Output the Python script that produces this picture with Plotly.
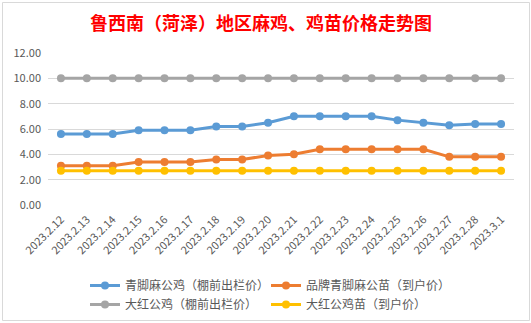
import plotly.graph_objects as go

dates = ["2023.2.12", "2023.2.13", "2023.2.14", "2023.2.15", "2023.2.16", "2023.2.17",
         "2023.2.18", "2023.2.19", "2023.2.20", "2023.2.21", "2023.2.22", "2023.2.23",
         "2023.2.24", "2023.2.25", "2023.2.26", "2023.2.27", "2023.2.28", "2023.3.1"]

qingjiao_gongji = [5.6, 5.6, 5.6, 5.9, 5.9, 5.9, 6.2, 6.2, 6.5, 7.0, 7.0, 7.0, 7.0, 6.7, 6.5, 6.3, 6.4, 6.4]
pinpai_miao = [3.1, 3.1, 3.1, 3.4, 3.4, 3.4, 3.6, 3.6, 3.9, 4.0, 4.4, 4.4, 4.4, 4.4, 4.4, 3.8, 3.8, 3.8]
dahong_gongji = [10.0] * 18
dahong_miao = [2.7] * 18

series_names = ["青脚麻公鸡（棚前出栏价）", "品牌青脚麻公苗（到户价）",
                "大红公鸡（棚前出栏价）", "大红公鸡苗（到户价）"]
series_values = [qingjiao_gongji, pinpai_miao, dahong_gongji, dahong_miao]
colors = ["#5B9BD5", "#ED7D31", "#A5A5A5", "#FFC000"]

y_ticks = [0, 2, 4, 6, 8, 10, 12]
y_tick_labels = ["0.00", "2.00", "4.00", "6.00", "8.00", "10.00", "12.00"]

title_text = "鲁西南（菏泽）地区麻鸡、鸡苗价格走势图"

font_family = "Noto Sans CJK SC"

fig = go.Figure()
for name, vals, col in zip(series_names, series_values, colors):
    fig.add_trace(go.Scatter(
        x=dates, y=vals, name=name, mode="lines+markers",
        line=dict(color=col, width=3),
        marker=dict(color=col, size=8),
    ))

W, H = 531, 323
ml, mr, mt, mb = 48, 17, 53, 118
pw = W - ml - mr
ph = H - mt - mb


def px_x(p):
    return (p - ml) / pw


def px_y(p):
    return 1 - (p - mt) / ph


fig.update_layout(
    width=W, height=H,
    margin=dict(l=ml, r=mr, t=mt, b=mb, autoexpand=False),
    paper_bgcolor="white", plot_bgcolor="white",
    font=dict(family=font_family, color="#595959", size=11),
    showlegend=True,
    legend=dict(
        orientation="h",
        x=px_x(85), y=px_y(271), xanchor="left", yanchor="top",
        entrywidth=136, entrywidthmode="pixels",
        font=dict(size=12, color="#595959", family=font_family),
        itemwidth=30, tracegroupgap=0,
        bgcolor="rgba(0,0,0,0)",
    ),
    xaxis=dict(
        type="category", range=[-0.5, len(dates) - 0.5],
        tickangle=-45, showgrid=False, showline=False, ticks="",
        tickfont=dict(size=11, color="#595959", family=font_family),
        zeroline=False, ticklabelstandoff=5,
    ),
    yaxis=dict(
        range=[0, 12], tickvals=y_ticks, ticktext=y_tick_labels,
        showgrid=True, gridcolor="#D9D9D9", gridwidth=1,
        showline=False, zeroline=False, ticks="",
        tickfont=dict(size=11, color="#595959", family=font_family),
        ticklabelstandoff=6,
    ),
    annotations=[dict(
        text="<b>" + title_text + "</b>",
        x=px_x(261), y=px_y(22), xref="paper", yref="paper",
        xanchor="center", yanchor="middle", showarrow=False,
        font=dict(size=18, color="#FF0000", family=font_family),
    )],
    shapes=[dict(
        type="rect", xref="paper", yref="paper",
        x0=px_x(2.5), x1=px_x(529.5), y0=px_y(2.5), y1=px_y(320.5),
        line=dict(color="#D9D9D9", width=1), layer="below",
    )],
)

fig.write_html("out.html")
